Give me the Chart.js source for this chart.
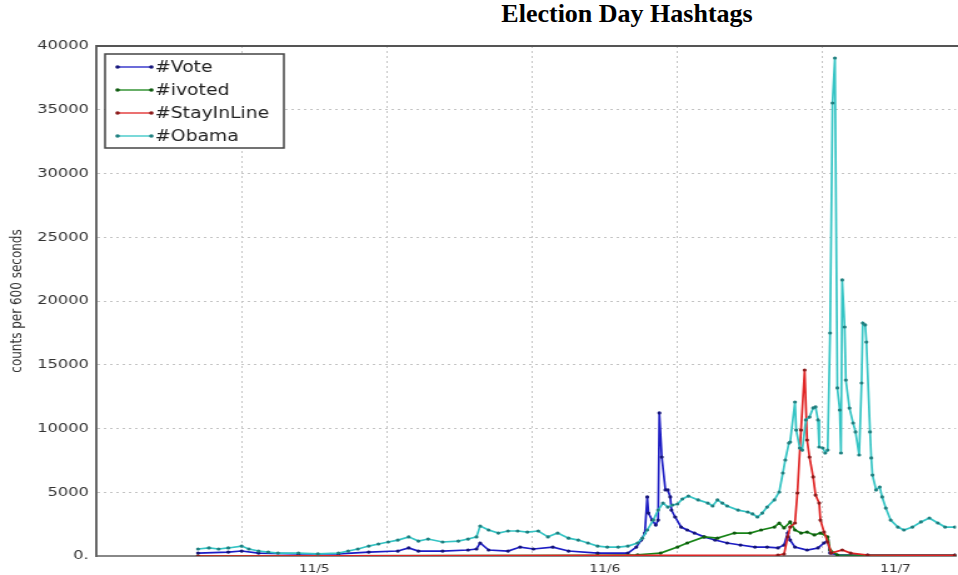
<!DOCTYPE html>
<html>
<head>
<meta charset="utf-8">
<title>Election Day Hashtags</title>
<script src="https://cdn.jsdelivr.net/npm/chart.js@4.4.1/dist/chart.umd.min.js"></script>
<style>
  html, body { margin: 0; padding: 0; background: #fff; overflow: hidden; }
  #titulo {
    position: absolute; top: 1px; left: 627px; transform: translateX(-50%);
    font: bold 26px "Liberation Serif", "Times New Roman", serif; line-height: 26px;
    color: #000; white-space: nowrap;
  }
  /* o gráfico original era uma imagem esticada na horizontal */
  #quadro {
    position: absolute; left: 0; top: 0; width: 766px; height: 575px;
    transform: scaleX(1.25065); transform-origin: 0 0;
  }
</style>
</head>
<body>
<div id="titulo">Election Day Hashtags</div>
<div id="quadro"><canvas id="grafico" width="766" height="575" style="width:766px;height:575px"></canvas></div>
<script>
// horas contadas a partir de 11/5 00:00, contagens por janela de 600 s
const voteHoras = [-9.6, -7.1, -6.0, -4.6, -1.3, 2.0, 4.5, 6.9, 7.8, 8.6, 10.6, 12.7, 13.4, 13.7, 14.4, 16.0, 17.0, 18.1, 19.7, 21.0,
  23.4, 25.9, 26.6, 27.0, 27.3, 27.5, 27.6, 27.9, 28.2, 28.4, 28.5, 28.7, 29.0, 29.2, 29.4, 29.5, 29.8, 30.3, 30.8, 31.4,
  32.2, 33.1, 34.1, 35.2, 36.4, 37.4, 38.3, 38.8, 39.1, 39.3, 39.7, 40.7, 41.6, 42.1, 42.4, 42.6, 43.2, 45.7, 52.9];
const voteValores = [230, 310, 390, 230, 160, 160, 310, 390, 630, 390, 390, 470, 550, 1020, 470, 390, 700, 550, 700, 390,
  230, 230, 700, 1250, 1800, 4630, 3370, 2820, 2430, 2820, 11220, 7760, 5180, 5180, 4630, 3600, 3060, 2270, 2040, 1800,
  1500, 1250, 1020, 860, 700, 700, 630, 860, 1800, 1250, 700, 470, 630, 1020, 1250, 230, 80, 80, 80];

const ivotedHoras = [-9.6, 23.4, 26.7, 28.6, 30.0, 30.8, 32.2, 33.3, 34.7, 36.0, 36.9, 38.0, 38.4, 38.8, 39.3, 39.7, 40.2,
  40.7, 41.3, 41.8, 42.4, 42.6, 43.2, 52.9];
const ivotedValores = [0, 50, 100, 230, 700, 1020, 1500, 1400, 1800, 1800, 2040, 2270, 2590, 2200, 2670, 2040, 1800,
  1880, 1650, 1800, 1500, 470, 80, 50];

const filaHoras = [-9.6, 38.3, 38.8, 39.1, 39.3, 39.7, 39.9, 40.2, 40.5, 40.7, 40.9, 41.2, 41.4, 41.7, 41.8, 42.1, 42.4,
  42.7, 43.6, 44.3, 45.7, 52.9];
const filaValores = [0, 80, 150, 1500, 2270, 2590, 4940, 9880, 14590, 9100, 7760, 6200, 4780, 4150, 2820, 1880, 1100,
  230, 470, 230, 80, 50];

const obamaHoras = [-9.6, -8.7, -7.9, -7.1, -6.0, -5.4, -4.6, -3.8, -3.0, -1.3, 0.3, 2.0, 2.8, 3.6, 4.5, 5.3, 6.1, 6.9, 7.8, 8.6,
  9.4, 10.6, 11.9, 12.7, 13.4, 13.7, 14.4, 15.2, 16.0, 16.8, 17.6, 18.5, 19.3, 20.1, 21.0, 21.8, 22.6, 23.4, 24.2, 25.1,
  25.9, 26.7, 27.1, 27.5, 28.0, 28.4, 28.8, 29.2, 29.6, 30.0, 30.4, 30.9, 31.7, 32.5, 32.9, 33.3, 33.7, 34.1, 35.0, 35.8,
  36.2, 36.6, 37.0, 37.4, 38.0, 38.4, 38.7, 38.9, 39.2, 39.3, 39.7, 39.8, 40.1, 40.3, 40.6, 40.9, 41.2, 41.4, 41.6, 41.7,
  42.0, 42.2, 42.4, 42.6, 42.8, 43.0, 43.2, 43.4, 43.5, 43.6, 43.8, 43.9, 44.2, 44.5, 44.7, 45.0, 45.2, 45.3, 45.5, 45.6,
  45.9, 46.0, 46.1, 46.4, 46.7, 46.9, 47.2, 47.6, 48.2, 48.7, 49.4, 50.1, 50.8, 51.5, 52.1, 52.9];
const obamaValores = [550, 630, 550, 630, 780, 550, 390, 310, 230, 230, 160, 230, 390, 550, 780, 940, 1100, 1250, 1500, 1170,
  1330, 1100, 1170, 1330, 1500, 2350, 2040, 1800, 1960, 1960, 1880, 1960, 1500, 1800, 1400, 1250, 1020, 780, 700, 700,
  780, 1020, 1400, 2040, 2820, 3600, 4150, 3840, 4000, 4080, 4470, 4700, 4400, 4150, 3920, 4400, 4150, 3920, 3600, 3450,
  3300, 3060, 3370, 3840, 4400, 5020, 6510, 7530, 8860, 8940, 12080, 9880, 8470, 8310, 10670, 10900, 11610, 11690, 10670, 8550,
  8470, 8080, 8310, 17490, 35530, 39060, 13180, 11450, 8080, 21650, 17960, 13800, 11600, 10430, 9730, 7920, 13570, 18270, 18120, 16780,
  9730, 7690, 6350, 5180, 5410, 4630, 3760, 2820, 2270, 2040, 2270, 2670, 2980, 2590, 2270, 2270];

const diasRotulo = ['11/5', '11/6', '11/7'];
const yTicks = [0, 5000, 10000, 15000, 20000, 25000, 30000, 35000, 40000];

function pontos(horas, valores) {
  return horas.map((h, i) => ({ x: h, y: valores[i] }));
}

function serie(label, horas, valores, cor, corPonto, ordem) {
  return {
    label: label,
    data: pontos(horas, valores),
    borderColor: cor,
    backgroundColor: corPonto,
    pointBackgroundColor: corPonto,
    pointBorderWidth: 0,
    pointRadius: 1.6,
    pointHoverRadius: 0,
    borderWidth: 1.7,
    tension: 0,
    fill: false,
    order: ordem
  };
}

// moldura de cima (o eixo da direita fica fora da imagem)
const moldura = {
  id: 'moldura',
  beforeDatasetsDraw(chart) {
    const { ctx, chartArea: a } = chart;
    ctx.save();
    ctx.strokeStyle = '#555';
    ctx.lineWidth = 2;
    ctx.beginPath();
    ctx.moveTo(a.left, a.top);
    ctx.lineTo(a.right + 2, a.top);
    ctx.stroke();
    ctx.restore();
  }
};

// legenda em caixa no canto superior esquerdo
const legendaCaixa = {
  id: 'legendaCaixa',
  afterDraw(chart) {
    const { ctx } = chart;
    ctx.save();
    ctx.fillStyle = '#fff';
    ctx.fillRect(84, 54, 143, 94);
    ctx.strokeStyle = '#444';
    ctx.lineWidth = 1.5;
    ctx.strokeRect(84, 54, 143, 94);
    ctx.font = '15px "DejaVu Sans"';
    ctx.textBaseline = 'middle';
    chart.data.datasets.forEach((ds, i) => {
      const y = 67 + i * 23;
      ctx.strokeStyle = ds.borderColor;
      ctx.lineWidth = 1.3;
      ctx.beginPath();
      ctx.moveTo(94, y);
      ctx.lineTo(121, y);
      ctx.stroke();
      ctx.fillStyle = ds.pointBackgroundColor;
      [94, 121].forEach(px => {
        ctx.beginPath();
        ctx.arc(px, y, 1.8, 0, Math.PI * 2);
        ctx.fill();
      });
      ctx.fillStyle = '#222';
      ctx.fillText(ds.label, 124, y + 1);
    });
    ctx.restore();
  }
};

const ctx = document.getElementById('grafico').getContext('2d');
new Chart(ctx, {
  type: 'line',
  data: {
    datasets: [
      serie('#Vote', voteHoras, voteValores, '#1d1dc4', '#15157a', 3),
      serie('#ivoted', ivotedHoras, ivotedValores, '#178417', '#0f5a0f', 2),
      serie('#StayInLine', filaHoras, filaValores, '#e02424', '#8a1a1a', 1),
      serie('#Obama', obamaHoras, obamaValores, '#34c4c4', '#1f7f7f', 0)
    ]
  },
  options: {
    responsive: false,
    animation: false,
    events: [],
    layout: { padding: { top: 46, right: 0, bottom: 0, left: 0 } },
    plugins: {
      legend: { display: false },
      title: { display: false },
      tooltip: { enabled: false }
    },
    scales: {
      x: {
        type: 'linear',
        min: -18,
        max: 53,
        afterFit(scale) { scale.height = 19; },
        afterBuildTicks(scale) {
          const t = [];
          for (let h = -18; h <= 48; h += 6) t.push({ value: h });
          scale.ticks = t;
        },
        ticks: {
          autoSkip: false,
          maxRotation: 0,
          padding: 7,
          color: '#333',
          font: { family: 'DejaVu Sans', size: 11 },
          callback: v => (v >= 0 && v % 24 === 0) ? diasRotulo[v / 24] : ''
        },
        grid: {
          drawTicks: false,
          lineWidth: 1,
          color: c => (c.tick && (c.tick.value + 6) % 12 === 0) ? '#c4c4c4' : 'rgba(0,0,0,0)'
        },
        border: { display: true, color: '#888', width: 2, dash: [2, 3] }
      },
      y: {
        min: 0,
        max: 40000,
        afterFit(scale) { scale.width = 77; },
        afterBuildTicks(scale) {
          scale.ticks = yTicks.map(v => ({ value: v }));
        },
        ticks: {
          padding: 6,
          color: '#333',
          font: { family: 'DejaVu Sans', size: 13 },
          callback: v => v === 0 ? '0.' : String(v)
        },
        grid: { drawTicks: false, color: '#c4c4c4', lineWidth: 1 },
        border: { display: true, color: '#666', width: 2, dash: [2, 3] },
        title: {
          display: true,
          text: 'counts per 600 seconds',
          color: '#333',
          font: { family: 'DejaVu Sans', size: 12 },
          padding: { top: 7, bottom: 0 }
        }
      }
    }
  },
  plugins: [moldura, legendaCaixa]
});
</script>
</body>
</html>
